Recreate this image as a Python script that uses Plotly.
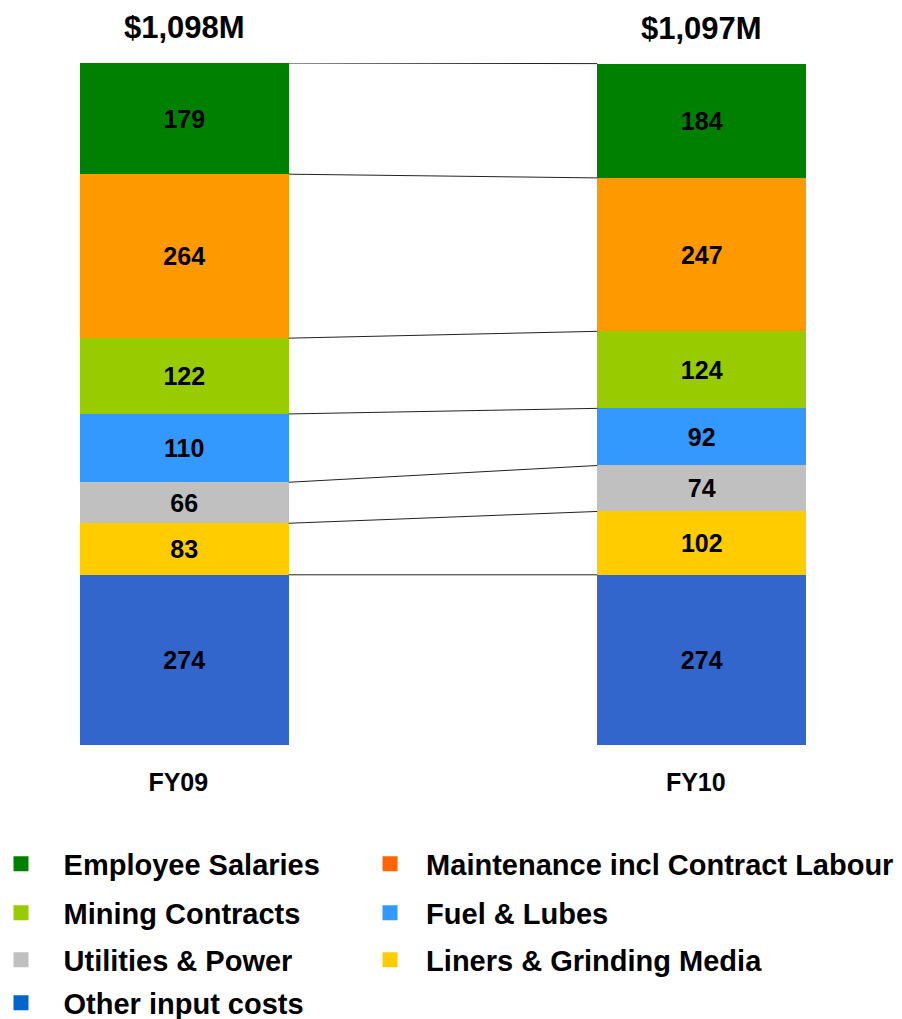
import plotly.graph_objects as go

years = ["FY09", "FY10"]
# stacked from bottom to top
series = [
    "Other input costs",
    "Liners & Grinding Media",
    "Utilities & Power",
    "Fuel & Lubes",
    "Mining Contracts",
    "Maintenance incl Contract Labour",
    "Employee Salaries",
]
other = [274, 274]
liners = [83, 102]
utilities = [66, 74]
fuel = [110, 92]
mining = [122, 124]
maintenance = [264, 247]
salaries = [179, 184]
values = [other, liners, utilities, fuel, mining, maintenance, salaries]

bar_colors = ["#3366CC", "#FFCC00", "#C0C0C0", "#3399FF", "#99CC00", "#FF9900", "#008000"]
legend_colors = ["#0066CC", "#FFCC00", "#C0C0C0", "#3399FF", "#99CC00", "#FF6600", "#008000"]
# legend layout: (name, column, row)
legend_items = [
    ("Employee Salaries", 0, 0),
    ("Maintenance incl Contract Labour", 1, 0),
    ("Mining Contracts", 0, 1),
    ("Fuel & Lubes", 1, 1),
    ("Utilities & Power", 0, 2),
    ("Liners & Grinding Media", 1, 2),
    ("Other input costs", 0, 3),
]

FONT = "Liberation Sans, Arial, sans-serif"
BAR_W = 0.404
xpos = [0, 1]
W, H = 894, 1011
L, R, T, B = 21, 45, 55, 274
PW = W - L - R

fig = go.Figure()
for name, vals, col in zip(series, values, bar_colors):
    fig.add_trace(go.Bar(
        x=xpos, y=vals, name=name, width=BAR_W,
        marker=dict(color=col, line=dict(width=0)),
        text=vals, texttemplate="%{text}", textposition="inside",
        insidetextanchor="middle", textangle=0, constraintext="none",
        textfont=dict(family=FONT, size=25, color="black", weight="bold"),
        showlegend=False, hoverinfo="skip",
    ))

# legend: one small legend per entry so each can sit where the reference has it
row_y = [856, 905, 952, 995]      # row centres, px from top of figure
col_left = [-7, 362]              # legend box left edge, px from figure left
pads = ["\u2002\u00a0", "\u00a0\u00a0"]
legend_layouts = {}
for k, (name, c, r) in enumerate(legend_items):
    i = series.index(name)
    lname = "legend" if k == 0 else f"legend{k + 1}"
    fig.add_trace(go.Scatter(
        x=[None], y=[None], mode="markers", name=pads[c] + name,
        marker=dict(symbol="square", size=15, color=legend_colors[i]),
        showlegend=True, legend=lname,
    ))
    legend_layouts[lname] = dict(
        orientation="v", xref="paper", yref="container",
        x=(col_left[c] - L) / PW, y=1 - row_y[r] / H,
        xanchor="left", yanchor="middle",
        font=dict(family=FONT, size=29, color="black", weight="bold"),
        itemclick=False, itemdoubleclick=False, bgcolor="rgba(0,0,0,0)",
    )

# totals & connectors
totals = [sum(v[j] for v in values) for j in range(2)]
for j in range(2):
    fig.add_annotation(
        x=xpos[j], y=totals[j], xref="x", yref="y",
        text=f"${totals[j]:,}M", showarrow=False, yanchor="bottom", yshift=16,
        font=dict(family=FONT, size=31, color="black", weight="bold"),
    )

levels = []
c0 = c1 = 0
for v in values:
    c0 += v[0]
    c1 += v[1]
    levels.append((c0, c1))
for (a, b) in levels:
    fig.add_shape(type="line", xref="x", yref="y",
                  x0=xpos[0] + BAR_W / 2, x1=xpos[1] - BAR_W / 2, y0=a, y1=b,
                  line=dict(color="#222222", width=1))

fig.update_layout(
    barmode="stack",
    width=W, height=H,
    margin=dict(l=L, r=R, t=T, b=B, autoexpand=False),
    plot_bgcolor="white", paper_bgcolor="white",
    xaxis=dict(range=[-0.3, 1.3], tickvals=xpos, ticktext=years,
               showgrid=False, zeroline=False, showline=False, ticks="",
               tickfont=dict(family=FONT, size=25, color="black", weight="bold"),
               ticklabelshift=-6, ticklabelstandoff=20),
    yaxis=dict(range=[0, max(totals)], visible=False, showgrid=False, zeroline=False),
    font=dict(family=FONT),
    showlegend=True,
    **legend_layouts,
)

fig.write_html("out.html")
